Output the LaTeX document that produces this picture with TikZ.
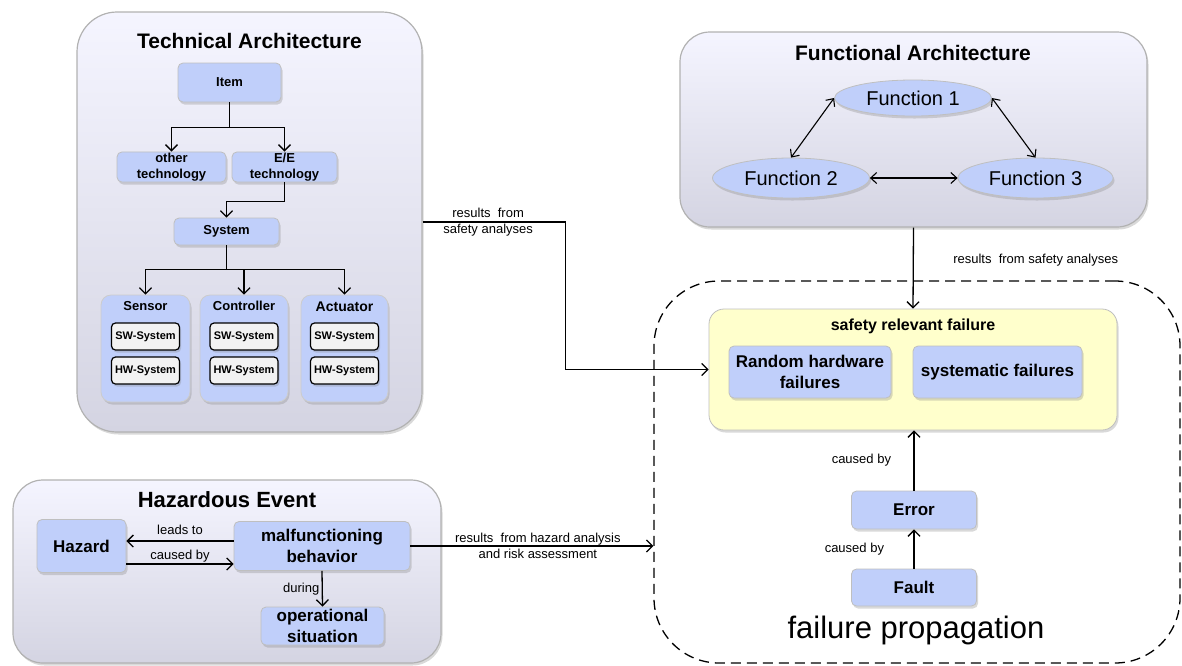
\documentclass[tikz,border=0pt]{standalone}
\usepackage{fontspec}
\setmainfont{Liberation Sans}
\usetikzlibrary{shapes.geometric,shadows,arrows.meta}
\definecolor{boxblue}{RGB}{192,207,250}
\definecolor{panelgray}{RGB}{212,212,226}
\definecolor{failyellow}{RGB}{255,255,204}

\begin{document}
\begin{tikzpicture}[x=1pt, y=-1pt,
    shdw/.style={drop shadow={shadow xshift=1.5pt, shadow yshift=-2.5pt, opacity=0.3}},
    panel/.style={shdw, draw=black!30, line width=1.2pt, top color=white!96!blue, bottom color=panelgray, rounded corners=#1},
    block/.style={shdw, draw=black!25, line width=0.8pt, fill=boxblue, rounded corners=5pt, align=center, inner sep=1pt, font=\bfseries\fontsize{13}{16}\selectfont},
    bigblock/.style={block, font=\bfseries\fontsize{17}{21}\selectfont},
    grp/.style={shdw, draw=black!20, line width=0.8pt, fill=boxblue, rounded corners=10pt},
    sub/.style={shdw, draw=black, line width=1.2pt, fill=black!5, rounded corners=4pt, minimum width=68pt, minimum height=27pt, font=\bfseries\fontsize{11}{13}\selectfont},
    func/.style={shdw, ellipse, draw=black!25, line width=0.8pt, fill=boxblue, minimum width=157pt, minimum height=40pt, font=\fontsize{20}{24}\selectfont},
    ttl/.style={font=\bfseries\fontsize{21}{25}\selectfont},
    lbl/.style={font=\fontsize{13}{16}\selectfont, align=center},
    arr/.style={line width=1.3pt, -{Straight Barb[length=6pt,width=12pt]}},
    biarr/.style={line width=1.1pt, {Straight Barb[length=6pt,width=11pt]}-{Straight Barb[length=6pt,width=11pt]}}]
  \useasboundingbox (0,0) rectangle (1182,665);

  % technical architecture
  \node [panel=40pt, minimum width=345pt, minimum height=420pt] (techarch) at (249.5,222) {};
  \node [ttl] (techtitle) at (249.5,41) {Technical Architecture};
  \node [block, minimum width=103pt, minimum height=39pt] (item) at (229.5,82.5) {Item};
  \node [block, minimum width=109pt, minimum height=30pt] (othertech) at (171.5,167) {other\\technology};
  \node [block, minimum width=105pt, minimum height=30pt] (eetech) at (284.5,167) {E/E\\technology};
  \node [block, minimum width=105pt, minimum height=27pt] (system) at (226.5,231.5) {System};
  \node [grp, minimum width=89pt, minimum height=107pt] (sensor) at (145.5,348.5) {};
  \node [grp, minimum width=88pt, minimum height=107pt] (controller) at (244,348.5) {};
  \node [grp, minimum width=87pt, minimum height=107pt] (actuator) at (344.5,348.5) {};
  \node [font=\bfseries\fontsize{13}{16}\selectfont] (sensortitle) at (145.5,306) {Sensor};
  \node [font=\bfseries\fontsize{13}{16}\selectfont] (controllertitle) at (244,306) {Controller};
  \node [font=\bfseries\fontsize{14}{16}\selectfont] (actuatortitle) at (344.5,307) {Actuator};
  \foreach \g in {sensor,controller,actuator} {
    \node [sub] (\g sw) at ([yshift=12pt]\g.center) {SW-System};
    \node [sub] (\g hw) at ([yshift=-22pt]\g.center) {HW-System};
  }
  \draw [line width=1.3pt] (item.south) -- ++(0,25) coordinate (itemfork);
  \draw [arr] (itemfork) -| (othertech.north);
  \draw [arr] (itemfork) -| (eetech.north);
  \draw [arr] (eetech.south) -- ++(0,19) -| (system.north);
  \draw [line width=1.3pt] (system.south) -- ++(0,24) coordinate (sysfork);
  \foreach \g in {sensor,controller,actuator}
    \draw [arr] (sysfork) -| (\g.north);

  % functional architecture
  \node [panel=30pt, minimum width=467pt, minimum height=195pt] (funcarch) at (913.5,129.5) {};
  \node [ttl] (functitle) at (913,53) {Functional Architecture};
  \node [func, minimum height=36pt] (fone) at (913,98) {Function 1};
  \node [func] (ftwo) at (791,178) {Function 2};
  \node [func, minimum width=155pt] (fthree) at (1035.5,178) {Function 3};
  \draw [biarr] (fone.west) -- (ftwo.north);
  \draw [biarr] (fone.east) -- (fthree.north);
  \draw [biarr] (ftwo.east) -- (fthree.west);

  % failure propagation
  \node [draw, line width=1.3pt, dash pattern=on 10pt off 6pt, rounded corners=65pt, minimum width=526pt, minimum height=382pt] (fprop) at (917,472) {};
  \node [font=\fontsize{31}{36}\selectfont] (fproptitle) at (916,630) {failure propagation};
  \node [shdw, draw=black!25, line width=0.8pt, fill=failyellow, rounded corners=15pt, minimum width=408pt, minimum height=121pt] (srf) at (913,369.5) {};
  \node [font=\bfseries\fontsize{16}{20}\selectfont] (srftitle) at (913,326) {safety relevant failure};
  \node [bigblock, minimum width=162pt, minimum height=52pt] (random) at (810,372) {Random hardware\\failures};
  \node [bigblock, minimum width=169pt, minimum height=52pt] (systematic) at (997.5,372) {systematic failures};
  \node [bigblock, minimum width=125pt, minimum height=38pt] (err) at (914,510) {Error};
  \node [bigblock, minimum width=125pt, minimum height=37pt] (fault) at (914,587.5) {Fault};
  \draw [arr] (err.north) -- (err.north |- srf.south) node [lbl, midway, left=19pt] {caused by};
  \draw [arr] (fault.north) -- (err.south) node [lbl, midway, left=26pt] {caused by};
  \draw [arr] (funcarch.south) -- (srf.north) node [lbl, pos=0.4, right=36pt] {results\ \ from safety analyses};
  \draw [arr] (techarch.east) -- ++(143,0) node [lbl, midway, xshift=-6pt] {results\ \ from\\safety analyses} |- (srf.west);

  % hazardous event
  \node [panel=30pt, minimum width=428pt, minimum height=183pt] (hazev) at (227,571.5) {};
  \node [ttl, font=\bfseries\fontsize{22}{26}\selectfont] (hazevtitle) at (227,500) {Hazardous Event};
  \node [bigblock, minimum width=89pt, minimum height=53pt] (hazard) at (81.5,546) {Hazard};
  \node [bigblock, minimum width=176pt, minimum height=49pt] (malf) at (322,546) {malfunctioning\\behavior};
  \node [bigblock, minimum width=123pt, minimum height=38pt] (opsit) at (322.5,626) {operational\\situation};
  \draw [arr] ([yshift=5pt]malf.west) -- ([yshift=5pt]hazard.east) node [lbl, midway, above=2pt] {leads to};
  \draw [arr] ([yshift=-18pt]hazard.east) -- ([yshift=-18pt]malf.west) node [lbl, midway, above=-2pt] {caused by};
  \draw [arr] (malf.south) -- (opsit.north) node [lbl, midway, left=-1pt] {during};
  \draw [arr] (malf.east) -- (malf.east -| fprop.west) node [lbl, midway, xshift=6pt] {results\ \ from hazard analysis\\and risk assessment};
\end{tikzpicture}
\end{document}
